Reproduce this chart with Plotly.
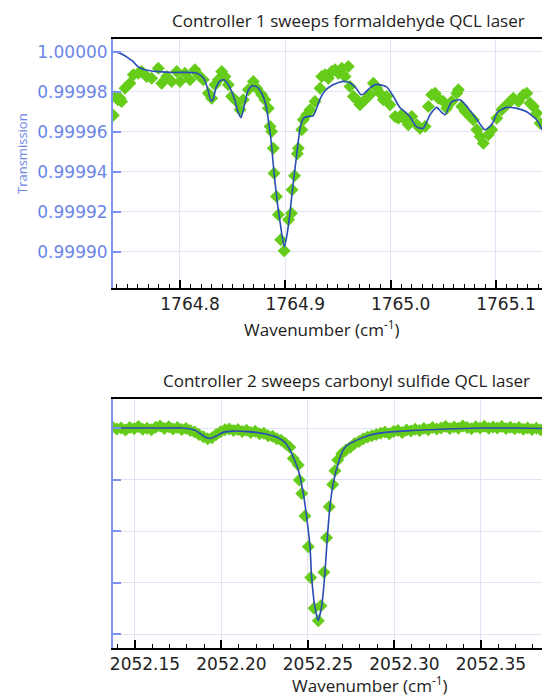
import plotly.graph_objects as go

W, H = 542, 696

# ---------------- Panel 1: formaldehyde (Controller 1) ----------------
top_title = "Controller 1 sweeps formaldehyde QCL laser"
top_meas_x = [1764.7367, 1764.7383, 1764.7411, 1764.7430, 1764.7446, 1764.7478, 1764.7525, 1764.7557,
              1764.7604, 1764.7636, 1764.7684, 1764.7731, 1764.7794, 1764.7826, 1764.7874, 1764.7921,
              1764.7969, 1764.8000, 1764.8047, 1764.8095, 1764.8142, 1764.8174, 1764.8221, 1764.8269,
              1764.8301, 1764.8332, 1764.8364, 1764.8396, 1764.8427, 1764.8459, 1764.8491, 1764.8538,
              1764.8570, 1764.8601, 1764.8649, 1764.8696, 1764.8728, 1764.8776, 1764.8807, 1764.8839,
              1764.8855, 1764.8870, 1764.8886, 1764.8893, 1764.8916, 1764.8934, 1764.8956, 1764.8989,
              1764.9031, 1764.9058, 1764.9064, 1764.9087, 1764.9114, 1764.9123, 1764.9156, 1764.9171,
              1764.9203, 1764.9235, 1764.9282, 1764.9330, 1764.9346, 1764.9377, 1764.9408, 1764.9441,
              1764.9472, 1764.9503, 1764.9536, 1764.9567, 1764.9598, 1764.9614, 1764.9646, 1764.9678,
              1764.9709, 1764.9757, 1764.9804, 1764.9836, 1764.9868, 1764.9899, 1764.9931, 1764.9963,
              1764.9994, 1765.0042, 1765.0073, 1765.0105, 1765.0137, 1765.0168, 1765.0200, 1765.0248,
              1765.0279, 1765.0327, 1765.0358, 1765.0390, 1765.0422, 1765.0453, 1765.0500, 1765.0533,
              1765.0580, 1765.0628, 1765.0643, 1765.0675, 1765.0707, 1765.0754, 1765.0785, 1765.0818,
              1765.0849, 1765.0880, 1765.0928, 1765.0960, 1765.1008, 1765.1055, 1765.1103, 1765.1134,
              1765.1165, 1765.1213, 1765.1260, 1765.1293, 1765.1324, 1765.1355, 1765.1387, 1765.1419]
top_meas_y = [0.9999682, 0.9999775, 0.9999759, 0.9999767, 0.9999750, 0.9999817, 0.9999842, 0.9999884,
              0.9999892, 0.9999900, 0.9999875, 0.9999867, 0.9999917, 0.9999842, 0.9999875, 0.9999850,
              0.9999900, 0.9999850, 0.9999892, 0.9999859, 0.9999909, 0.9999884, 0.9999859, 0.9999792,
              0.9999767, 0.9999834, 0.9999859, 0.9999900, 0.9999875, 0.9999834, 0.9999775, 0.9999750,
              0.9999709, 0.9999759, 0.9999809, 0.9999850, 0.9999817, 0.9999784, 0.9999759, 0.9999717,
              0.9999625, 0.9999600, 0.9999517, 0.9999392, 0.9999275, 0.9999184, 0.9999059, 0.9999004,
              0.9999159, 0.9999192, 0.9999309, 0.9999379, 0.9999489, 0.9999517, 0.9999609, 0.9999659,
              0.9999684, 0.9999709, 0.9999750, 0.9999817, 0.9999875, 0.9999884, 0.9999867, 0.9999900,
              0.9999909, 0.9999892, 0.9999917, 0.9999875, 0.9999925, 0.9999825, 0.9999775, 0.9999759,
              0.9999734, 0.9999759, 0.9999784, 0.9999842, 0.9999817, 0.9999792, 0.9999759, 0.9999775,
              0.9999734, 0.9999675, 0.9999667, 0.9999684, 0.9999659, 0.9999634, 0.9999675, 0.9999634,
              0.9999617, 0.9999625, 0.9999725, 0.9999784, 0.9999792, 0.9999767, 0.9999750, 0.9999717,
              0.9999750, 0.9999792, 0.9999809, 0.9999725, 0.9999700, 0.9999675, 0.9999659, 0.9999609,
              0.9999575, 0.9999542, 0.9999584, 0.9999609, 0.9999667, 0.9999709, 0.9999734, 0.9999750,
              0.9999767, 0.9999750, 0.9999784, 0.9999792, 0.9999742, 0.9999725, 0.9999692, 0.9999642]
top_fit_x = [1764.7364, 1764.7411, 1764.7459, 1764.7506, 1764.7554, 1764.7592, 1764.7620, 1764.7668,
             1764.7763, 1764.7905, 1764.8047, 1764.8142, 1764.8190, 1764.8228, 1764.8266, 1764.8294,
             1764.8313, 1764.8342, 1764.8380, 1764.8418, 1764.8465, 1764.8513, 1764.8551, 1764.8579,
             1764.8608, 1764.8646, 1764.8684, 1764.8731, 1764.8779, 1764.8817, 1764.8845, 1764.8864,
             1764.8893, 1764.8921, 1764.8950, 1764.8969, 1764.8992, 1764.9016, 1764.9045, 1764.9073,
             1764.9102, 1764.9125, 1764.9149, 1764.9178, 1764.9216, 1764.9263, 1764.9292, 1764.9330,
             1764.9377, 1764.9453, 1764.9548, 1764.9614, 1764.9676, 1764.9719, 1764.9757, 1764.9804,
             1764.9866, 1764.9961, 1765.0023, 1765.0089, 1765.0137, 1765.0184, 1765.0246, 1765.0308,
             1765.0374, 1765.0436, 1765.0479, 1765.0517, 1765.0578, 1765.0659, 1765.0726, 1765.0820,
             1765.0896, 1765.0958, 1765.1020, 1765.1101, 1765.1196, 1765.1291, 1765.1386, 1765.1438]
top_fit_y = [1.0000000, 0.9999996, 0.9999984, 0.9999969, 0.9999951, 0.9999929, 0.9999919, 0.9999909,
             0.9999901, 0.9999896, 0.9999896, 0.9999894, 0.9999884, 0.9999864, 0.9999809, 0.9999754,
             0.9999759, 0.9999819, 0.9999854, 0.9999859, 0.9999829, 0.9999769, 0.9999699, 0.9999669,
             0.9999724, 0.9999804, 0.9999829, 0.9999824, 0.9999789, 0.9999729, 0.9999634, 0.9999559,
             0.9999394, 0.9999259, 0.9999149, 0.9999079, 0.9999024, 0.9999084, 0.9999199, 0.9999334,
             0.9999459, 0.9999559, 0.9999639, 0.9999669, 0.9999676, 0.9999679, 0.9999709, 0.9999764,
             0.9999804, 0.9999834, 0.9999851, 0.9999844, 0.9999814, 0.9999784, 0.9999794, 0.9999819,
             0.9999836, 0.9999824, 0.9999779, 0.9999719, 0.9999699, 0.9999674, 0.9999624, 0.9999616,
             0.9999684, 0.9999721, 0.9999699, 0.9999684, 0.9999749, 0.9999759, 0.9999724, 0.9999659,
             0.9999609, 0.9999634, 0.9999699, 0.9999721, 0.9999716, 0.9999699, 0.9999659, 0.9999609]
top_yticks = [0.99990, 0.99992, 0.99994, 0.99996, 0.99998, 1.00000]

# ---------------- Panel 2: carbonyl sulfide (Controller 2) ----------------
bot_title = "Controller 2 sweeps carbonyl sulfide QCL laser"
bot_meas_x = [2052.1370, 2052.1395, 2052.1420, 2052.1445, 2052.1470, 2052.1495, 2052.1520, 2052.1545,
              2052.1570, 2052.1595, 2052.1620, 2052.1645, 2052.1670, 2052.1695, 2052.1720, 2052.1745,
              2052.1770, 2052.1795, 2052.1820, 2052.1845, 2052.1870, 2052.1895, 2052.1920, 2052.1945,
              2052.1970, 2052.1995, 2052.2020, 2052.2045, 2052.2070, 2052.2095, 2052.2120, 2052.2145,
              2052.2170, 2052.2195, 2052.2220, 2052.2245, 2052.2270, 2052.2295, 2052.2320, 2052.2345,
              2052.2370, 2052.2395, 2052.2415, 2052.2444, 2052.2450, 2052.2464, 2052.2483, 2052.2502,
              2052.2516, 2052.2535, 2052.2560, 2052.2575, 2052.2592, 2052.2608, 2052.2623, 2052.2643,
              2052.2656, 2052.2672, 2052.2695, 2052.2720, 2052.2745, 2052.2770, 2052.2795, 2052.2820,
              2052.2845, 2052.2870, 2052.2895, 2052.2920, 2052.2945, 2052.2970, 2052.2995, 2052.3020,
              2052.3045, 2052.3070, 2052.3095, 2052.3120, 2052.3145, 2052.3170, 2052.3195, 2052.3220,
              2052.3245, 2052.3270, 2052.3295, 2052.3320, 2052.3345, 2052.3370, 2052.3395, 2052.3420,
              2052.3445, 2052.3470, 2052.3495, 2052.3520, 2052.3545, 2052.3570, 2052.3595, 2052.3620,
              2052.3645, 2052.3670, 2052.3695, 2052.3720, 2052.3745, 2052.3770, 2052.3795, 2052.3820,
              2052.3845]
bot_meas_y = [1.004, 0.996, 1.000, 0.992, 1.002, 0.997, 1.006, 0.995,
              0.999, 0.993, 1.003, 1.008, 0.998, 1.005, 0.996, 1.002,
              0.994, 0.998, 0.990, 0.984, 0.975, 0.966, 0.958, 0.962,
              0.975, 0.985, 0.993, 0.996, 0.990, 0.994, 0.986, 0.991,
              0.983, 0.987, 0.978, 0.980, 0.970, 0.968, 0.958, 0.952,
              0.940, 0.925, 0.882, 0.856, 0.798, 0.746, 0.658, 0.539,
              0.419, 0.300, 0.252, 0.310, 0.440, 0.574, 0.694, 0.781,
              0.834, 0.876, 0.900, 0.915, 0.925, 0.940, 0.948, 0.958,
              0.965, 0.970, 0.975, 0.980, 0.984, 0.978, 0.986, 0.990,
              0.983, 0.992, 0.988, 0.995, 0.990, 0.998, 0.993, 1.002,
              0.996, 1.000, 1.006, 0.998, 1.004, 0.999, 1.008, 1.002,
              0.997, 1.005, 1.000, 1.007, 0.999, 1.004, 1.000, 1.006,
              0.998, 1.003, 0.997, 1.002, 0.995, 1.000, 0.994, 0.999,
              0.993]
bot_fit_x = [2052.1370, 2052.1500, 2052.1650, 2052.1780, 2052.1850, 2052.1905, 2052.1935, 2052.1970,
             2052.2010, 2052.2070, 2052.2150, 2052.2210, 2052.2280, 2052.2330, 2052.2370, 2052.2396,
             2052.2444, 2052.2473, 2052.2492, 2052.2512, 2052.2521, 2052.2540, 2052.2559, 2052.2579,
             2052.2598, 2052.2611, 2052.2627, 2052.2646, 2052.2675, 2052.2704, 2052.2730, 2052.2780,
             2052.2850, 2052.2960, 2052.3100, 2052.3300, 2052.3500, 2052.3700, 2052.3860]
bot_fit_y = [1.000, 1.000, 1.000, 1.000, 0.990, 0.965, 0.959, 0.969,
             0.983, 0.988, 0.986, 0.982, 0.973, 0.961, 0.942, 0.915,
             0.837, 0.746, 0.656, 0.539, 0.423, 0.306, 0.252, 0.306,
             0.436, 0.565, 0.694, 0.785, 0.863, 0.915, 0.935, 0.952,
             0.971, 0.984, 0.990, 0.996, 1.000, 1.000, 0.998]
bot_yticks = [0.2, 0.4, 0.6, 0.8, 1.0]

x_title = "Wavenumber (cm<sup>-1</sup>)"
y_title = "Transmission"

GREEN = "#66cc1a"
FIT = "#2a4db5"
BLUE = "#6c86e8"
AXBLUE = "#7a93f2"
GRID = "#e1e3f4"

fig = go.Figure()
fig.add_trace(go.Scatter(x=top_meas_x, y=top_meas_y, mode="markers", xaxis="x", yaxis="y",
                         marker=dict(symbol="diamond", size=10, color=GREEN), showlegend=False))
fig.add_trace(go.Scatter(x=top_fit_x, y=top_fit_y, mode="lines", xaxis="x", yaxis="y",
                         line=dict(color=FIT, width=1.6, shape="spline", smoothing=0.6), showlegend=False))
fig.add_trace(go.Scatter(x=bot_meas_x, y=bot_meas_y, mode="markers", xaxis="x2", yaxis="y2",
                         marker=dict(symbol="diamond", size=10, color=GREEN), showlegend=False))
fig.add_trace(go.Scatter(x=bot_fit_x, y=bot_fit_y, mode="lines", xaxis="x2", yaxis="y2",
                         line=dict(color=FIT, width=1.6, shape="spline", smoothing=0.5), showlegend=False))

xdom = [113 / W, 1.0]
top_dom = [1 - 288 / H, 1 - 39 / H]
bot_dom = [1 - 648 / H, 1 - 399 / H]

xcommon = dict(showline=True, linecolor="black", linewidth=1.8, mirror=True,
               ticks="inside", ticklen=8, tickwidth=1.5, tickcolor="black",
               showgrid=True, gridcolor=GRID, gridwidth=1, zeroline=False,
               tickfont=dict(family="DejaVu Sans", size=17, color="#222222"),
               ticklabelshift=10, automargin=False)
ycommon = dict(showline=True, linecolor=AXBLUE, linewidth=2,
               ticks="inside", ticklen=8, tickwidth=1.5, tickcolor=AXBLUE,
               showgrid=True, gridcolor=GRID, gridwidth=1, zeroline=False,
               tickfont=dict(family="DejaVu Sans", size=17, color=BLUE), automargin=False)

fig.update_layout(
    width=W, height=H, margin=dict(l=0, r=0, t=0, b=0, autoexpand=False),
    paper_bgcolor="white", plot_bgcolor="white", showlegend=False,
    xaxis=dict(domain=xdom, anchor="y", range=[1764.7364, 1765.1437],
               tickvals=[1764.8, 1764.9, 1765.0, 1765.1], tickformat=".1f",
               minor=dict(dtick=0.01, tick0=1764.8, ticks="inside", ticklen=4, tickcolor="black",
                          tickwidth=1, showgrid=False),
               **xcommon),
    yaxis=dict(domain=top_dom, anchor="x", range=[0.9998818, 1.0000063],
               tickvals=top_yticks, tickformat=".5f", **ycommon),
    xaxis2=dict(domain=xdom, anchor="y2", range=[2052.1373, 2052.3853],
                tickvals=[2052.15, 2052.20, 2052.25, 2052.30, 2052.35], tickformat=".2f",
                minor=dict(dtick=0.01, tick0=2052.15, ticks="inside", ticklen=4, tickcolor="black",
                           tickwidth=1, showgrid=False),
                **xcommon),
    yaxis2=dict(domain=bot_dom, anchor="x2", range=[0.1457, 1.1126],
                tickvals=bot_yticks, showticklabels=False, **ycommon),
)

ann_font = dict(family="Open Sans", size=17, color="#222222")
fig.add_annotation(text=top_title, xref="paper", yref="paper", x=348 / W, y=1 - 21 / H,
                   showarrow=False, xanchor="center", yanchor="middle", font=ann_font)
fig.add_annotation(text=bot_title, xref="paper", yref="paper", x=346 / W, y=1 - 380 / H,
                   showarrow=False, xanchor="center", yanchor="middle", font=ann_font)
axt_font = dict(family="Open Sans", size=17, color="#222222")
fig.add_annotation(text=x_title, xref="paper", yref="paper", x=322 / W, y=1 - 329 / H,
                   showarrow=False, xanchor="center", yanchor="middle", font=axt_font)
fig.add_annotation(text=x_title, xref="paper", yref="paper", x=370 / W, y=1 - 684 / H,
                   showarrow=False, xanchor="center", yanchor="middle", font=axt_font)
fig.add_annotation(text=y_title, xref="paper", yref="paper", x=22 / W, y=1 - 154 / H,
                   showarrow=False, textangle=-90, xanchor="center", yanchor="middle",
                   font=dict(family="Open Sans", size=13, color=BLUE))

fig.write_html("out.html", config={"displayModeBar": False},
               post_script="document.body.style.margin='0';document.body.style.overflow='hidden';")
